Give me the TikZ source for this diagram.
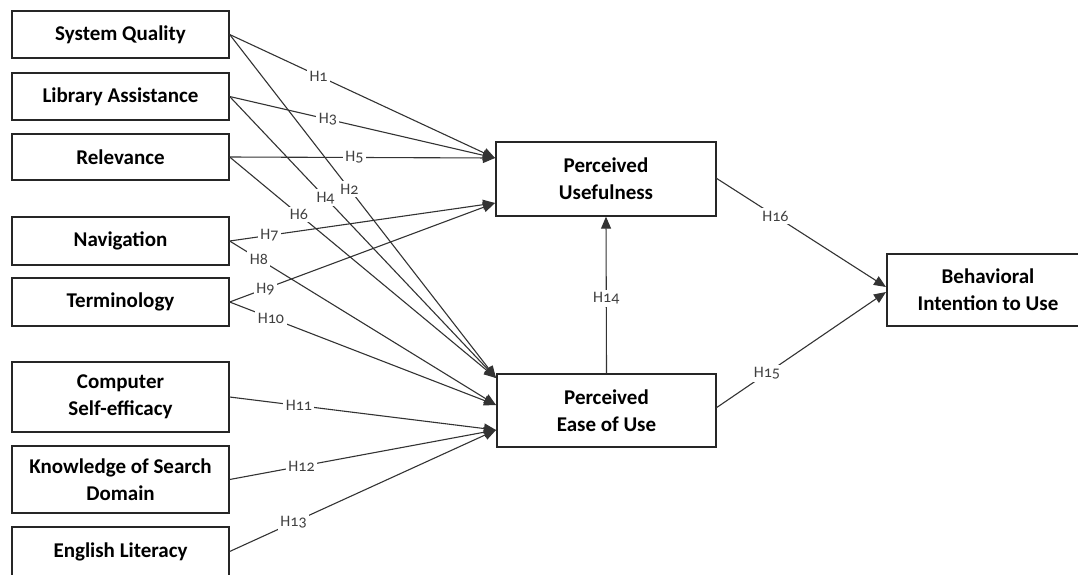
\documentclass[tikz,border=0pt]{standalone}
\usepackage{fontspec}
\setmainfont{Carlito}
\newfontfamily\labfont[Numbers=OldStyle]{Carlito}
\usetikzlibrary{arrows.meta}
\begin{document}
\begin{tikzpicture}[x=1pt,y=-1pt,
  box/.style={draw=black!85, line width=1.3pt, fill=white, align=center,
    font=\fontsize{21}{27}\selectfont\bfseries, inner sep=0pt},
  lbox/.style={box, minimum width=217pt},
  conn/.style={draw=black!80, line width=1.1pt, -{Triangle[length=12pt,width=10pt]}},
  hl/.style={fill=white, inner sep=2.5pt, font=\labfont\fontsize{16}{16}\selectfont, text=black!75}
]
\useasboundingbox (0,0) rectangle (1078,574);
% left boxes
\node[lbox, minimum height=47pt] (sq)  at (120.5,34.5) {System Quality};
\node[lbox, minimum height=47pt] (la)  at (120.5,96.5) {Library Assistance};
\node[lbox, minimum height=46pt] (rel) at (120.5,157) {Relevance};
\node[lbox, minimum height=48pt] (nav) at (120.5,241) {Navigation};
\node[lbox, minimum height=48pt] (ter) at (120.5,302) {Terminology};
\node[lbox, minimum height=70pt] (cse) at (120.5,397) {Computer\\Self-efficacy};
\node[lbox, minimum height=67pt] (ksd) at (120.5,479.5) {Knowledge of Search\\Domain};
\node[lbox, minimum height=49pt] (el)  at (120.5,551.5) {English Literacy};
% right boxes
\node[box, minimum width=220pt, minimum height=74pt] (pu)  at (606,179) {Perceived\\Usefulness};
\node[box, minimum width=219pt, minimum height=73pt] (peu) at (606.5,410.5) {Perceived\\Ease of Use};
\node[box, minimum width=202pt, minimum height=72pt] (bi)  at (988,290) {Behavioral\\Intention to Use};
% arrival points
\coordinate (pu1) at (495,158);
\coordinate (pu2) at (495,203);
\coordinate (pe1) at (496,378);
\coordinate (pe2) at (496,405);
\coordinate (pe3) at (496,430);
\coordinate (bi1) at (886,292);
\coordinate (bi2) at (886,287);
\coordinate (pe4) at (716,408);
\coordinate (pu4) at (716,178);
% connectors
\draw[conn] (sq.east)  -- node[hl,pos=.335]{H1} (pu1);
\draw[conn] (sq.east)  -- node[hl,pos=.45]{H2} (pe1);
\draw[conn] (la.east)  -- node[hl,pos=.37]{H3} (pu1);
\draw[conn] (la.east)  -- node[hl,pos=.36]{H4} (pe1);
\draw[conn] (rel.east) -- node[hl,pos=.47]{H5} (pu1);
\draw[conn] (rel.east) -- node[hl,pos=.26]{H6} (pe1);
\draw[conn] (nav.east) -- node[hl,pos=.15]{H7} (pu2);
\draw[conn] (nav.east) -- node[hl,pos=.11]{H8} (pe2);
\draw[conn] (ter.east) -- node[hl,pos=.135]{H9} (pu2);
\draw[conn] (ter.east) -- node[hl,pos=.155]{H10} (pe2);
\draw[conn] (cse.east) -- node[hl,pos=.26]{H11} (pe3);
\draw[conn] (ksd.east) -- node[hl,pos=.27]{H12} (pe3);
\draw[conn] (el.east)  -- node[hl,pos=.24]{H13} (pe3);
\draw[conn] (peu.north) -- node[hl,pos=.48]{H14} (pu.south);
\draw[conn] (pe4) -- node[hl,pos=.3]{H15} (bi1);
\draw[conn] (pu4) -- node[hl,pos=.35]{H16} (bi2);
\end{tikzpicture}
\end{document}
